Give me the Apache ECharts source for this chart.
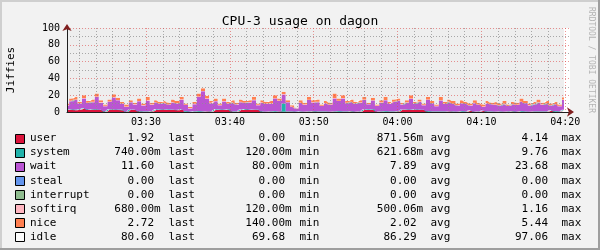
<!DOCTYPE html>
<html><head><meta charset="utf-8">
<script src="https://cdn.jsdelivr.net/npm/echarts@6/dist/echarts.min.js"></script>
<style>html,body{margin:0;padding:0;background:#F2F2F2}#c{width:600px;height:250px}</style>
</head><body><div id="c"></div>
<script>
// ---- time domain ----
const START_SEC = 3 * 3600 + 20 * 60 + 34;   // 03:20:34 first sample / left edge
const STEP_SEC = 30.4;                        // sample spacing
const WINDOW_SEC = 3600;                      // one hour shown
const majorTickLabels = ['03:30', '03:40', '03:50', '04:00', '04:10', '04:20'];
const yTicks = [0, 20, 40, 60, 80, 100];

// ---- series (stack order bottom -> top) ----
const seriesNames = ['user', 'system', 'wait', 'steal', 'interrupt', 'softirq', 'nice', 'idle'];
const seriesColors = ['#DC143C', '#20B2AA', '#BA55D3', '#6495ED', '#8FBC8F', '#FFB6C1', '#FF7F50', '#EEEEEE'];

const userValues = [
  2.5,2.8,2.2,2.6,4.14,2.4,2.7,2.5,2.3,0.4,
  2.6,2.8,2.5,2.2,0.3,2.4,2.6,0.5,0.3,0.4,
  0.5,2.4,2.7,2.3,2.5,2.6,2.2,2.8,0.4,0,
  0.3,0.4,0.3,0.5,0.3,2.4,2.7,2.5,2.6,0.4,
  0.3,2.5,2.8,2.4,2.6,2.3,0.3,0.2,0.4,0.3,
  0.5,0.3,0.2,0.3,0,0.4,0.3,0.2,0.5,0.3,
  0.2,0.4,0.3,0.2,0.4,0.3,0.2,0.5,0.3,0.4,
  2.4,2.5,2.6,0.3,0.2,0.4,0.3,0.2,0.5,2.6,
  2.8,2.5,2.7,2.4,2.3,0.3,0.2,0.4,0.3,0.2,
  0.5,0.3,0.2,0.4,0.3,1.5,0.2,0.3,1.2,0.4,
  0.2,0.3,0.4,0.2,0.3,0.5,0.2,0.3,0.4,0.2,
  0.3,0.2,0.4,0.3,1.5,0.3,0.2,1.92
];
const systemValues = [
  0.6,0.4,0.8,0.6,0.5,0.7,0.6,0.8,0.4,0.6,
  0.7,0.5,0.6,0.8,0.4,0.6,0.5,0.7,0.6,0.4,
  0.6,0.8,0.5,0.6,0.7,0.4,0.6,0.5,0.8,0.6,
  0.5,0.7,0.6,0.4,0.6,0.8,0.5,0.6,0.7,0.4,
  0.6,0.5,0.8,0.6,0.4,0.7,0.6,0.5,0.6,0.8,
  0.4,9.76,0.6,0.7,0.5,0.6,0.4,0.8,0.6,0.5,
  0.7,0.6,0.4,0.6,0.8,0.5,0.6,0.7,0.4,0.6,
  0.5,0.8,0.6,0.4,0.6,0.7,0.5,0.6,0.8,0.4,
  0.6,0.5,0.7,0.6,0.4,0.8,0.6,0.5,0.6,0.7,
  0.4,0.6,0.5,0.8,0.6,0.7,0.4,0.6,0.5,0.6,
  0.8,0.4,0.6,0.5,0.7,0.6,0.4,0.8,0.6,0.5,
  0.6,0.7,0.4,0.6,0.5,0.8,0.6,0.74
];
const waitValues = [
  4.6,9.5,11.7,6.8,11.36,7.5,8.4,14.8,8.4,5.9,
  8.9,13.9,10.8,6.9,5.2,8.5,5.9,11.5,6.9,12.7,
  7.5,8.0,6.6,7.5,5.6,8.2,7.3,11.4,7.0,3.7,
  8.4,17.0,23.68,14.8,9.6,9.7,4.9,9.4,6.4,10.2,
  8.0,8.7,7.3,8.3,11.0,5.1,10.2,8.8,8.9,14.9,
  12.2,10.64,10.7,5.2,3.76,9.9,7.8,13.3,10.3,10.7,
  6.1,9.2,7.9,15.26,11.9,15.3,9.7,10.6,9.1,10.1,
  11.5,5.8,10.4,6.3,10.2,12.9,8.6,11.0,12.2,5.8,
  7.7,12.6,6.5,8.9,5.2,13.5,9.5,6.0,12.7,8.7,
  10.8,8.8,7.1,9.3,8.5,5.6,9.7,7.7,4.5,8.8,
  8.1,7.7,6.8,8.6,6.1,8.0,7.7,11.2,9.3,6.9,
  8.0,10.2,7.6,8.8,5.7,8.2,6.1,11.60
];
const stealValues = [
  0,0,0,0,0,0,0,0,0,0, 0,0,0,0,0,0,0,0,0,0, 0,0,0,0,0,0,0,0,0,0,
  0,0,0,0,0,0,0,0,0,0, 0,0,0,0,0,0,0,0,0,0, 0,0,0,0,0,0,0,0,0,0,
  0,0,0,0,0,0,0,0,0,0, 0,0,0,0,0,0,0,0,0,0, 0,0,0,0,0,0,0,0,0,0,
  0,0,0,0,0,0,0,0,0,0, 0,0,0,0,0,0,0,0,0,0, 0,0,0,0,0,0,0,0
];
const interruptValues = [
  0,0,0,0,0,0,0,0,0,0, 0,0,0,0,0,0,0,0,0,0, 0,0,0,0,0,0,0,0,0,0,
  0,0,0,0,0,0,0,0,0,0, 0,0,0,0,0,0,0,0,0,0, 0,0,0,0,0,0,0,0,0,0,
  0,0,0,0,0,0,0,0,0,0, 0,0,0,0,0,0,0,0,0,0, 0,0,0,0,0,0,0,0,0,0,
  0,0,0,0,0,0,0,0,0,0, 0,0,0,0,0,0,0,0,0,0, 0,0,0,0,0,0,0,0
];
const softirqValues = [
  0.5,0.7,0.3,0.5,0.6,0.4,0.5,0.3,0.7,0.5,
  0.4,0.6,0.5,0.3,0.7,0.5,0.6,0.4,0.5,0.7,
  0.5,0.3,0.6,0.5,0.4,0.7,0.5,0.6,0.3,0.5,
  0.6,0.4,0.5,0.7,0.5,0.3,0.6,0.5,0.4,0.7,
  0.5,0.6,0.3,0.5,0.7,0.4,0.5,0.6,0.5,0.3,
  0.7,0.8,0.5,0.4,0.6,0.5,0.7,0.3,0.5,0.6,
  0.4,0.5,0.7,0.5,0.3,0.6,0.5,0.4,0.7,0.5,
  0.6,0.3,0.5,0.7,0.5,0.4,0.6,0.5,0.3,0.7,
  0.5,0.6,0.4,0.5,0.7,0.3,0.5,0.6,0.5,0.4,
  0.7,0.5,0.6,0.3,0.5,0.4,0.7,0.5,0.6,0.5,
  0.3,0.7,0.5,0.6,0.4,0.5,0.7,0.3,0.5,0.6,
  0.5,0.4,0.7,0.5,0.6,0.3,0.5,0.68
];
const niceValues = [
  1.8,2.6,3.0,1.5,3.4,2.0,2.8,3.6,2.2,1.6,
  2.4,3.2,2.6,1.8,2.4,2.0,1.4,2.9,1.7,3.8,
  1.9,2.5,1.6,2.1,1.8,3.1,2.4,2.7,1.5,1.2,
  2.2,3.5,3.2,2.6,2.0,2.8,1.3,3.0,1.9,2.3,
  1.6,2.7,1.8,2.2,3.3,1.5,2.4,1.9,2.6,3.7,
  2.2,2.5,2.0,1.4,0.14,2.6,1.8,3.4,2.1,2.9,
  1.6,2.3,1.7,5.44,2.6,3.3,2.0,2.8,1.5,2.4,
  3.0,1.6,2.9,1.3,2.5,3.6,2.0,2.7,2.2,1.5,
  2.4,3.8,1.7,2.6,1.4,3.1,2.2,1.5,3.9,2.0,
  2.6,2.8,1.6,3.2,2.1,1.8,3.0,1.9,2.2,2.7,
  1.6,2.9,1.7,3.1,1.5,2.4,2.0,3.4,2.2,1.8,
  2.6,3.5,1.9,2.8,1.7,2.4,1.6,2.72
];
const idleValues = [
  90,84,82,88,80,87,85,78,86,91,
  85,79,83,88,91,86,89,84,90,82,
  89,86,88,87,89,85,87,82,90,94,
  88,78,71.72,81,87,84,90,84,88,86,
  89,85,87,86,82,90,86,88,87,80,
  84,76,86,92,95,86,89,82,86,85,
  91,87,89,78,84,80,87,85,88,86,
  82,89,83,91,86,82,88,85,84,89,
  86,80,88,85,90,82,87,91,82,88,
  85,87,90,86,88,90,86,89,91,87,
  89,88,90,87,91,88,89,84,87,90,
  88,85,89,87,90,88,91,80.60
];
const seriesValues = [userValues, systemValues, waitValues, stealValues, interruptValues, softirqValues, niceValues, idleValues];

// ---- legend statistics (as printed) ----
const statLast = ['1.92', '740.00m', '11.60', '0.00', '0.00', '680.00m', '2.72', '80.60'];
const statMin  = ['0.00', '120.00m', '80.00m', '0.00', '0.00', '120.00m', '140.00m', '69.68'];
const statAvg  = ['871.56m', '621.68m', '7.89', '0.00', '0.00', '500.06m', '2.02', '86.29'];
const statMax  = ['4.14', '9.76', '23.68', '0.00', '0.00', '1.16', '5.44', '97.06'];
const statWords = ['last', 'min', 'avg', 'max'];

// ---- helpers ----
const parseHM = s => { const p = s.split(':').map(Number); return p[0] * 3600 + p[1] * 60; };
const fmtHM = v => { const h = Math.floor(v / 3600), m = Math.round((v % 3600) / 60); return String(h).padStart(2, '0') + ':' + String(m).padStart(2, '0'); };
const X_MIN = START_SEC, X_MAX = START_SEC + WINDOW_SEC;
const majorVals = majorTickLabels.map(parseHM);
const minorVals = [];
for (let s = majorVals[0] - 480; s < X_MAX; s += 120) { if (s > X_MIN && s % 600 !== 0) minorVals.push(s); }

const MONO = '"DejaVu Sans Mono", monospace';
const GRID_MAJOR = 'rgba(222,79,79,0.6)';
const GRID_MINOR = 'rgba(143,143,143,0.75)';

// sample times in ms (time axis so that stacking is done on the values)
const timesMs = userValues.map((_, i) => (START_SEC + i * STEP_SEC) * 1000);
const series = seriesNames.map((name, k) => ({
  name, type: 'line', stack: 'cpu', step: 'middle', xAxisIndex: 3, yAxisIndex: 0,
  symbol: 'none', showSymbol: false, silent: true, z: 2,
  lineStyle: { width: 0 },
  areaStyle: { color: seriesColors[k], opacity: 1 },
  data: seriesValues[k].map((v, i) => [timesMs[i], v])
}));

// ---- legend graphics ----
const graphics = [];
const ROW0 = 138.5, ROWDY = 14.05;
const numRight = [154, 285, 416.5, 548];
const wordLeft = [168.5, 299.5, 430.5, 561.5];
const stats = [statLast, statMin, statAvg, statMax];
seriesNames.forEach((name, k) => {
  const y = ROW0 + k * ROWDY;
  graphics.push({ type: 'rect', shape: { x: 15.5, y: Math.round(y) - 4.5, width: 9, height: 9 },
    style: { fill: k === 7 ? '#FAFAFA' : seriesColors[k], stroke: '#000', lineWidth: 1 } });
  graphics.push({ type: 'text', x: 30, y: y, style: { text: name, font: '11px ' + MONO, fill: '#000', verticalAlign: 'middle' } });
  for (let c = 0; c < 4; c++) {
    let txt = stats[c][k], suffix = '';
    if (txt.endsWith('m')) { suffix = 'm'; txt = txt.slice(0, -1); }
    graphics.push({ type: 'text', x: numRight[c], y: y, style: { text: txt, font: '11px ' + MONO, fill: '#000', align: 'right', verticalAlign: 'middle' } });
    if (suffix) graphics.push({ type: 'text', x: numRight[c], y: y, style: { text: suffix, font: '11px ' + MONO, fill: '#000', align: 'left', verticalAlign: 'middle' } });
    graphics.push({ type: 'text', x: wordLeft[c], y: y, style: { text: statWords[c], font: '11px ' + MONO, fill: '#000', verticalAlign: 'middle' } });
  }
});
graphics.push({ type: 'text', x: 11, y: 70, rotation: Math.PI / 2, style: { text: 'Jiffies', font: '11px ' + MONO, fill: '#000', align: 'center', verticalAlign: 'middle' } });
graphics.push({ type: 'text', x: 591, y: 60, rotation: -Math.PI / 2, style: { text: 'RRDTOOL / TOBI OETIKER', font: '8px ' + MONO, fill: '#B4B4B4', align: 'center', verticalAlign: 'middle' } });
graphics.push({ type: 'rect', z: 100, shape: { x: 0, y: 0, width: 600, height: 2 }, style: { fill: '#CFCFCF' } });
graphics.push({ type: 'rect', z: 100, shape: { x: 0, y: 0, width: 2, height: 250 }, style: { fill: '#CFCFCF' } });
graphics.push({ type: 'rect', z: 100, shape: { x: 0, y: 248, width: 600, height: 2 }, style: { fill: '#9E9E9E' } });
graphics.push({ type: 'rect', z: 100, shape: { x: 598, y: 0, width: 2, height: 250 }, style: { fill: '#9E9E9E' } });

const chart = echarts.init(document.getElementById('c'), null, { renderer: 'canvas' });
chart.setOption({
  animation: false,
  backgroundColor: '#F2F2F2',
  textStyle: { fontFamily: MONO },
  title: { text: 'CPU-3 usage on dagon', left: 'center', top: 10,
    textStyle: { fontFamily: MONO, fontSize: 13, fontWeight: 'normal', color: '#000' } },
  grid: { left: 67, top: 28, width: 503, height: 84, show: true, backgroundColor: '#FFFFFF', borderWidth: 0, containLabel: false },
  xAxis: [
    { type: 'value', min: X_MIN, max: X_MAX, position: 'bottom', z: 6,
      axisLine: { show: true, onZero: false, lineStyle: { color: '#1F1F1F', width: 1 } },
      axisTick: { show: false, customValues: majorVals },
      axisLabel: { show: true, customValues: majorVals, formatter: v => fmtHM(v), fontFamily: MONO, fontSize: 10, color: '#000', margin: 5 },
      splitLine: { show: true, lineStyle: { color: GRID_MAJOR, width: 1, type: [1, 2] } } },
    { type: 'value', min: X_MIN, max: X_MAX, position: 'bottom', z: 5,
      axisLine: { show: false }, axisLabel: { show: false },
      axisTick: { show: false, customValues: minorVals },
      splitLine: { show: true, lineStyle: { color: GRID_MINOR, width: 1, type: [1, 2] } } },
    { type: 'value', min: X_MIN, max: X_MAX, position: 'bottom', z: 7,
      axisLine: { show: true, onZero: false, symbol: ['none', 'arrow'], symbolSize: [7, 7], symbolOffset: [0, 4], lineStyle: { color: '#801F1F', width: 0 } },
      axisLabel: { show: false }, axisTick: { show: false }, splitLine: { show: false } },
    { type: 'time', min: X_MIN * 1000, max: X_MAX * 1000, show: false, splitLine: { show: false } }
  ],
  yAxis: [
    { type: 'value', min: 0, max: 100, interval: 20, position: 'left', z: 6,
      axisLine: { show: true, onZero: false, lineStyle: { color: '#1F1F1F', width: 1 } },
      axisTick: { show: false },
      axisLabel: { fontFamily: MONO, fontSize: 10, color: '#000', margin: 7 },
      splitLine: { show: true, lineStyle: { color: GRID_MAJOR, width: 1, type: [1, 2] } },
      minorTick: { show: false, splitNumber: 2 },
      minorSplitLine: { show: true, lineStyle: { color: GRID_MINOR, width: 1, type: [1, 2] } } },
    { type: 'value', min: 0, max: 100, position: 'left', offset: 0, z: 7,
      axisLine: { show: true, onZero: false, symbol: ['none', 'arrow'], symbolSize: [7, 7], symbolOffset: [0, 4], lineStyle: { color: '#801F1F', width: 0 } },
      axisLabel: { show: false }, axisTick: { show: false }, splitLine: { show: false } }
  ],
  series,
  graphic: { elements: graphics }
});
</script></body></html>
